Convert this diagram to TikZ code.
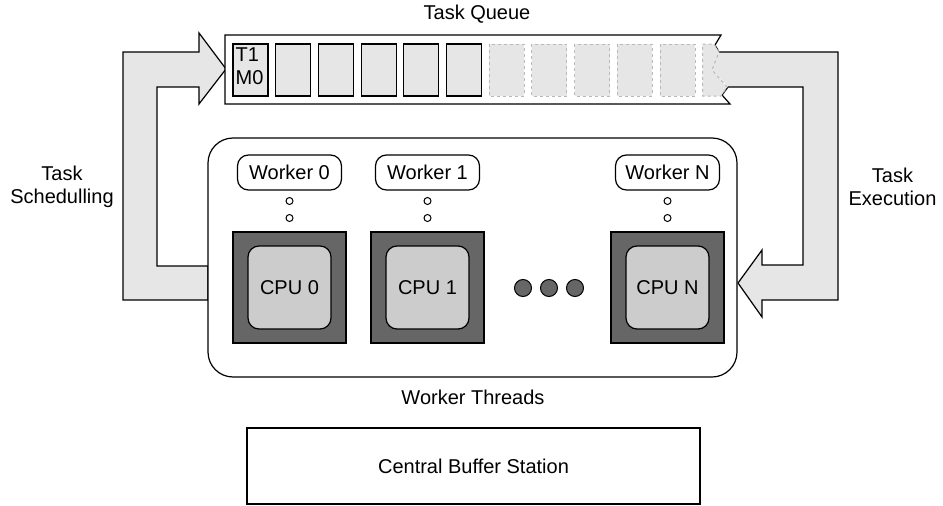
\documentclass[tikz,border=0pt]{standalone}
\usepackage{fontspec}
\setmainfont{Liberation Sans}

\definecolor{arrowgray}{RGB}{230,230,230}
\definecolor{cellgray}{RGB}{230,230,230}
\definecolor{ghostgray}{RGB}{185,185,185}
\definecolor{cpudark}{RGB}{102,102,102}
\definecolor{cpulight}{RGB}{204,204,204}

\tikzset{every picture/.style={line width=1.2pt}}
\tikzset{
  cell/.style={draw, fill=cellgray, minimum width=35, minimum height=52, inner sep=0pt},
  ghostcell/.style={draw=ghostgray, dashed, fill=cellgray, line width=1pt},
  worker/.style={draw, fill=white, rounded corners=11, minimum width=104, minimum height=35, inner sep=0pt},
  cpubox/.style={draw, fill=cpudark, minimum width=113, minimum height=111, inner sep=0pt},
  core/.style={draw, fill=cpulight, rounded corners=11, minimum width=83, minimum height=83, inner sep=0pt},
  bigarrow/.style={fill=arrowgray},
  plain/.style={inner sep=0pt, align=center},
}

\begin{document}
\begin{tikzpicture}[x=1pt,y=1pt,yscale=-1,font=\fontsize{20}{23}\selectfont]
    \useasboundingbox (0,0) rectangle (943,506);

    %Block Arrow: task schedulling
    \filldraw[bigarrow] (208,266) -- (157,266) -- (157,87) -- (199,87) -- (199,104) -- (226,69) -- (199,33) -- (199,52) -- (123,52) -- (123,300) -- (208,300) -- cycle;

    %Block Arrow: task execution
    \fill[bigarrow] (719,52) -- (838,52) -- (838,300) -- (762,300) -- (762,317) -- (738,283) -- (762,250) -- (762,265) -- (803,265) -- (803,87) -- (728,87) -- (712,70) -- cycle;
    \draw (719,52) -- (838,52) -- (838,300) -- (762,300) -- (762,317) -- (738,283) -- (762,250) -- (762,265) -- (803,265) -- (803,87) -- (728,87);

    %Queue
    \fill[white] (728,87) -- (722,95) -- (730,104) -- (225,104) -- (225,35) -- (721,35) -- (715,45) -- (719,52) -- (712,70) -- cycle;
    \draw (728,87) -- (722,95) -- (730,104) -- (225,104) -- (225,35) -- (721,35) -- (715,45) -- (719,52);
    \foreach \i in {0,...,5}
      \node[cell] (c\i) at (250.5+42.7*\i,70) {};
    \foreach \i in {6,...,10}
      \draw[ghostcell] (233+42.7*\i,44) rectangle ++(35,52);
    \draw[ghostcell] (702.7,44) -- (714,44) -- (719,52) -- (712,70) -- (727,87) -- (721,96) -- (702.7,96) -- cycle;

    % Text Node
    \node[plain, anchor=north west, align=left, font=\fontsize{20}{23}\selectfont] (task) at (235,47) {T1\\M0};
    % Text Node
    \node[plain] (qtitle) at (477,14) {Task Queue};

    %Worker threads
    \node[draw, fill=white, rounded corners=25, minimum width=529, minimum height=239] (wt) at (472.5,257.5) {};
    \foreach \n/\x in {0/289.5, 1/427.5, N/667.5} {
      \node[worker] (w\n) at (\x,172.5) {Worker \n};
      \draw[line width=1pt] (\x,201) circle (3.5) (\x,218) circle (3.5);
      \node[cpubox] (cpu\n) at (\x,287.5) {};
      \node[core] (core\n) at (cpu\n) {CPU \n};
    }
    \foreach \x in {523,549,575}
      \filldraw[fill=cpudark, line width=1pt] (\x,288) circle (8.5);

    % Text Node
    \node[plain] (wtlabel) at (473,397) {Worker Threads};
    % Text Node
    \node[plain] (sched) at (62,187) {Task\\Schedulling};
    % Text Node
    \node[plain] (exec) at (892.5,187) {Task\\Execution};

    %Central buffer
    \node[draw, minimum width=453, minimum height=76] (cbs) at (473.5,466) {Central Buffer Station};
\end{tikzpicture}
\end{document}
